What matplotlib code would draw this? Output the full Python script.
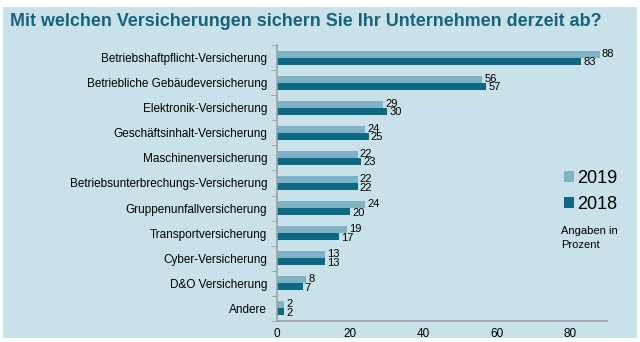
import matplotlib.pyplot as plt
import numpy as np
from matplotlib.patches import Rectangle

plt.rcParams['font.family'] = ['Liberation Sans', 'DejaVu Sans']

categories = ['Betriebshaftpflicht-Versicherung', 'Betriebliche Gebäudeversicherung',
              'Elektronik-Versicherung', 'Geschäftsinhalt-Versicherung',
              'Maschinenversicherung', 'Betriebsunterbrechungs-Versicherung',
              'Gruppenunfallversicherung', 'Transportversicherung',
              'Cyber-Versicherung', 'D&O Versicherung', 'Andere']
values_2019 = [88, 56, 29, 24, 22, 22, 24, 19, 13, 8, 2]
values_2018 = [83, 57, 30, 25, 23, 22, 20, 17, 13, 7, 2]

bg = '#c9e1e9'
light = '#7fb2c4'
dark = '#0c6883'

fig = plt.figure(figsize=(6.4, 3.42), dpi=100)
fig.patch.set_facecolor('white')
# light blue panel behind everything
fig.add_artist(Rectangle((3 / 640, 4 / 342), 634 / 640, 331 / 342,
                         transform=fig.transFigure, facecolor=bg,
                         edgecolor='none', zorder=0))
fig.text(10 / 640, 1 - 21 / 342, 'Mit welchen Versicherungen sichern Sie Ihr Unternehmen derzeit ab?',
         fontsize=12.9, fontweight='bold', color='#17627d', va='center', ha='left')

ax = fig.add_axes([277 / 640, 21 / 342, 330 / 640, 276 / 342])
ax.set_facecolor('none')

y = np.arange(len(categories))
h = 0.28
ax.barh(y - h / 2, values_2019, height=h, color=light, label='2019')
ax.barh(y + h / 2, values_2018, height=h, color=dark, label='2018')

for yi, a, b in zip(y, values_2019, values_2018):
    ax.text(a + 0.6, yi - h / 2 - 0.02, str(a), fontsize=8, va='center', ha='left')
    ax.text(b + 0.6, yi + h / 2 + 0.04, str(b), fontsize=8, va='center', ha='left')

ax.set_ylim(len(categories) - 0.5, -0.5)
ax.set_xlim(0, 90)
ax.set_xticks([0, 20, 40, 60, 80])
ax.set_yticks(y)
ax.set_yticklabels(categories, fontsize=8.5)
ax.set_yticks(np.arange(len(categories) + 1) - 0.5, minor=True)
ax.tick_params(axis='y', which='major', length=0, pad=7)
ax.tick_params(axis='y', which='minor', length=4, color='#a0a0a0')
ax.tick_params(axis='x', length=0, labelsize=8.5, pad=5)
for s in ['top', 'right']:
    ax.spines[s].set_visible(False)
for s in ['left', 'bottom']:
    ax.spines[s].set_color('#a0a0a0')
    ax.spines[s].set_linewidth(1.2)

ax.legend(loc='upper left', bbox_to_anchor=(555 / 640, 1 - 161 / 342),
          bbox_transform=fig.transFigure, frameon=False, fontsize=13,
          handlelength=0.55, handleheight=0.55, handletextpad=0.2,
          labelspacing=0.5, borderpad=0)
fig.text(561 / 640, 1 - 238 / 342, 'Angaben in\nProzent', fontsize=8, va='center',
         ha='left', linespacing=1.5)

fig.savefig('out.png', dpi=100)
